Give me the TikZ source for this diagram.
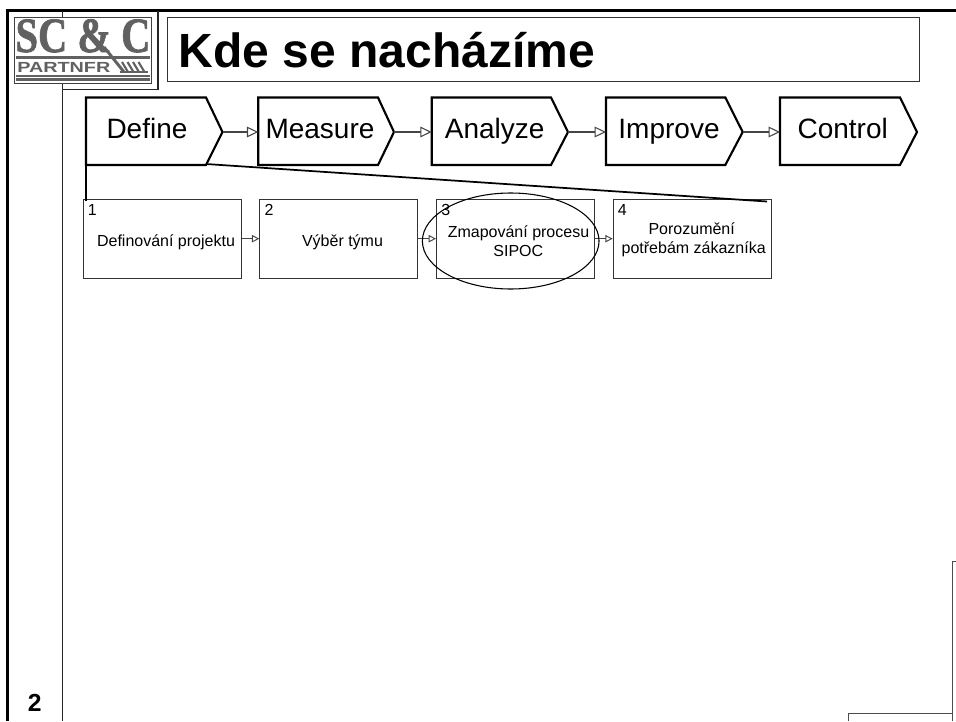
\documentclass[tikz,border=0pt]{standalone}
\usepackage{fontspec}
\usepackage{graphicx}
\setmainfont{Liberation Sans}
\newfontfamily\logofont[FakeBold=1.5]{Liberation Serif Bold}
\usetikzlibrary{arrows.meta,shapes.geometric}
\definecolor{lg}{gray}{0.27}
\definecolor{logog}{gray}{0.38}
\tikzset{
  px/.style={x=0.75pt,y=-0.75pt},
  frameline/.style={line width=2.2pt,black},
  thinline/.style={line width=0.8pt,black!85},
  chevron/.style={line width=1.6pt,black,line join=miter},
  chevlabel/.style={anchor=base,inner sep=0pt,font=\fontsize{21}{24}\selectfont},
  flowbig/.style={line width=0.8pt,lg,-{Triangle[open,fill=white,length=8.5pt,width=8pt]}},
  flowsmall/.style={line width=0.7pt,lg,-{Triangle[open,fill=white,length=5.5pt,width=5.5pt]}},
  stepbox/.style={draw=black!80,line width=0.75pt,fill=white,inner sep=0pt,anchor=north west},
  steptext/.style={anchor=base,inner sep=0pt,align=center,font=\fontsize{12}{14}\selectfont},
  stepnum/.style={anchor=base west,inner sep=0pt,font=\fontsize{12}{14}\selectfont},
  zoomline/.style={line width=1.3pt,black},
}
\newcommand{\chev}[6]{% name, left, shoulder, tip, label centre, text
  \draw[chevron] (#2,97.5) -- (#3,97.5) -- (#4,132) -- (#3,165) -- (#2,165) -- cycle;
  \coordinate (#1in) at (#2,132);
  \coordinate (#1out) at (#4,132);
  \coordinate (#1bl) at (#2,165);
  \coordinate (#1sh) at (#3,164);
  \node[chevlabel] (#1lab) at (#5,138.5) {#6};
}
\newcommand{\stepb}[3]{% name, left, num
  \node[stepbox,minimum width=118.5pt,minimum height=59pt] (#1) at (#2,199) {};
  \node[stepnum] (#1num) at (#2+5,215) {#3};
}
\begin{document}
\begin{tikzpicture}[px]
\useasboundingbox (0,0) rectangle (956,721);
% frame
\draw[frameline] (7.5,721) -- (7.5,10.7) -- (956,10.7);
\draw[thinline] (62.5,11) -- (62.5,721);
\draw[thinline,fill=white] (158,11) -- (158,89.7) -- (62.5,89.7);
\fill[white] (9.5,17) rectangle (62,83);
% logo
\node[draw=black!75,line width=0.75pt,fill=white,minimum width=103pt,minimum height=49.5pt,inner sep=0pt,anchor=north west] (logo) at (14,17) {};
\node[inner sep=0pt,anchor=base,text=logog] (logoa) at (83,52) {\scalebox{0.82}[1]{\logofont\fontsize{37}{40}\selectfont SC \& C}};
\node[inner sep=0pt,anchor=base west,text=logog] (logob) at (17,72.5) {\scalebox{1.35}[1]{\bfseries\fontsize{11}{12}\selectfont PARTNFR}};
\fill[logog] (16,55.5) rectangle (150,59);
\fill[logog] (16,75) rectangle (150,80.5);
\fill[white] (16,77) rectangle (150,77.6);
\draw[logog,line width=2.2pt] (104,47) -- (124,72);
\foreach \i in {0,1,2,3}{\draw[logog,line width=1.6pt] (122+5.5*\i,62) -- (128+5.5*\i,72);}
\draw[logog,line width=1.5pt] (120,72) -- (148,72);
% title
\node[draw=black!80,line width=0.75pt,minimum width=564.5pt,minimum height=48pt,inner sep=0pt,anchor=north west] (title) at (166.5,17) {};
\node[anchor=base west,inner sep=0pt,font=\bfseries\fontsize{36}{40}\selectfont] (titletext) at (178.5,67) {Kde se nacházíme};
% chevrons
\chev{def}{86}{206}{222.5}{147}{Define}
\chev{mea}{258.3}{378}{394}{320}{Measure}
\chev{ana}{431.7}{551}{568}{494.7}{Analyze}
\chev{imp}{606}{725.3}{742.7}{669}{Improve}
\chev{con}{780}{900}{917}{842.7}{Control}
\draw[flowbig] (defout) -- (meain);
\draw[flowbig] (meaout) -- (anain);
\draw[flowbig] (anaout) -- (impin);
\draw[flowbig] (impout) -- (conin);
% steps
\stepb{s1}{82.7}{1}
\stepb{s2}{259.3}{2}
\stepb{s3}{436}{3}
\stepb{s4}{612.7}{4}
\node[steptext] (s1t) at (166,246) {Definování projektu};
\node[steptext] (s2t) at (342.5,246) {Výběr týmu};
\node[steptext] (s3t) at (518.5,237) {Zmapování procesu};
\node[steptext] (s3u) at (518.3,256) {SIPOC};
\node[steptext] (s4t) at (691.7,234.5) {Porozumění};
\node[steptext] (s4u) at (693.7,253.5) {potřebám zákazníka};
\draw[flowsmall] (s1.east |- 0,238.7) -- (s2.west |- 0,238.7);
\draw[flowsmall] (s2.east |- 0,238.7) -- (s3.west |- 0,238.7);
\draw[flowsmall] (s3.east |- 0,238.7) -- (s4.west |- 0,238.7);
% ellipse
\node[draw=black,line width=0.8pt,ellipse,minimum width=132.5pt,minimum height=72pt,inner sep=0pt] (oval) at (510.7,241) {};
% zoom lines
\coordinate (s1top) at (86,200.5);
\coordinate (s4top) at (767,201.5);
\draw[zoomline] (defbl) -- (s1top);
\draw[zoomline] (defsh) -- (s4top);
% page number
\node[anchor=base west,inner sep=0pt,font=\bfseries\fontsize{18.5}{20}\selectfont] (pageno) at (27.5,711) {2};
% bottom right fragments
\draw[line width=0.9pt,black!70] (956,561.7) -- (952.7,561.7) -- (952.7,721);
\draw[line width=0.9pt,black!70] (848.7,721) -- (848.7,713.3) -- (952.7,713.3);
\end{tikzpicture}
\end{document}
